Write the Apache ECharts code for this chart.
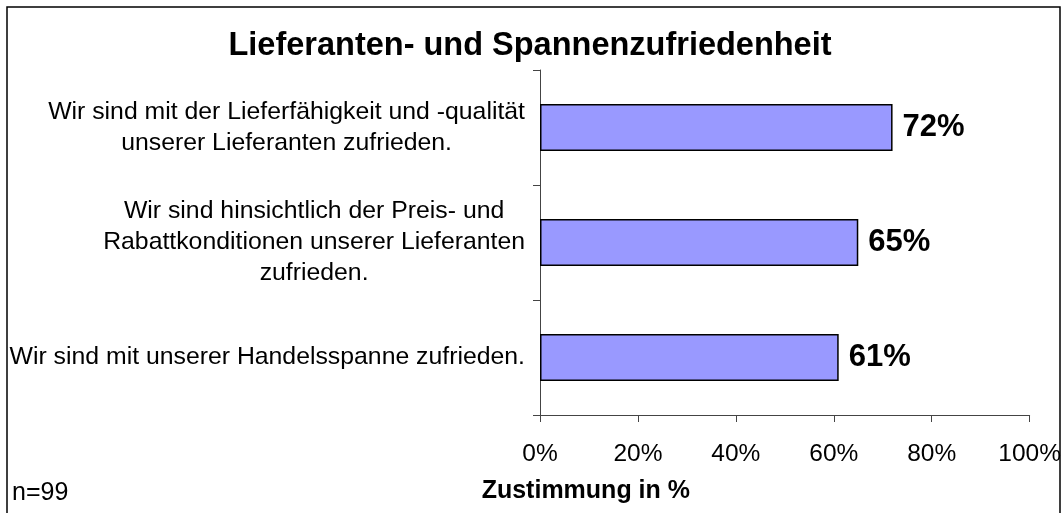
<!DOCTYPE html>
<html>
<head>
<meta charset="utf-8">
<script src="https://cdn.jsdelivr.net/npm/echarts@6/dist/echarts.min.js"></script>
<style>
html,body{margin:0;padding:0;background:#fff;}
#chart{width:1064px;height:513px;}
</style>
</head>
<body>
<div id="chart"></div>
<script>
var categories = [
  'Wir sind mit der Lieferfähigkeit und -qualität\nunserer Lieferanten zufrieden.',
  'Wir sind hinsichtlich der Preis- und\nRabattkonditionen unserer Lieferanten\nzufrieden.',
  'Wir sind mit unserer Handelsspanne zufrieden.'
];
var values = [72, 65, 61];
var xTicks = {min: 0, max: 100, interval: 20};
var chartTitle = 'Lieferanten- und Spannenzufriedenheit';
var axisTitle = 'Zustimmung in %';
var sampleNote = 'n=99';

var FONT = '"Liberation Sans", Arial, sans-serif';
var chart = echarts.init(document.getElementById('chart'));
chart.setOption({
  animation: false,
  textStyle: {fontFamily: FONT, color: '#000'},
  title: [
    {text: chartTitle, left: 530, textAlign: 'center', top: 30, padding: 0,
     textStyle: {fontFamily: FONT, fontSize: 32.5, fontWeight: 'bold', color: '#000'}},
    {text: sampleNote, left: 12, top: 481, padding: 0,
     textStyle: {fontFamily: FONT, fontSize: 25, fontWeight: 'normal', color: '#000'}}
  ],
  graphic: [{
    type: 'rect', silent: true,
    shape: {x: 7, y: 7, width: 1053, height: 530},
    style: {fill: 'none', stroke: '#000', lineWidth: 1.5}
  }],
  grid: {left: 540, right: 34, top: 70, bottom: 98, containLabel: false},
  xAxis: {
    type: 'value', min: xTicks.min, max: xTicks.max, interval: xTicks.interval,
    axisLine: {show: true, lineStyle: {color: '#444', width: 1}},
    axisTick: {show: true, length: 7, lineStyle: {color: '#444'}},
    splitLine: {show: false},
    axisLabel: {formatter: '{value}%', fontSize: 24.5, color: '#000', margin: 27, fontFamily: FONT},
    name: axisTitle, nameLocation: 'middle', nameGap: 64,
    nameTextStyle: {fontSize: 25, fontWeight: 'bold', color: '#000', fontFamily: FONT, padding: [0, 398, 0, 0]}
  },
  yAxis: {
    type: 'category', data: categories, inverse: true,
    axisLine: {show: true, lineStyle: {color: '#444', width: 1}},
    axisTick: {show: true, length: 7, lineStyle: {color: '#444'}},
    axisLabel: {
      align: 'right', margin: 15,
      formatter: function (v) {
        return v.split('\n').map(function (l) { return '{c|' + l + '}'; }).join('\n');
      },
      rich: {c: {fontSize: 24.8, lineHeight: 31, align: 'center', color: '#000', fontFamily: FONT}}
    }
  },
  series: [{
    type: 'bar', data: values, barWidth: '41%',
    itemStyle: {color: '#9999FF', borderColor: '#000', borderWidth: 1.5},
    label: {show: true, position: 'right', distance: 10, formatter: '{c}%',
            fontSize: 31, fontWeight: 'bold', color: '#000', fontFamily: FONT, padding: [5, 0, 0, 0]}
  }]
});
</script>
</body>
</html>
